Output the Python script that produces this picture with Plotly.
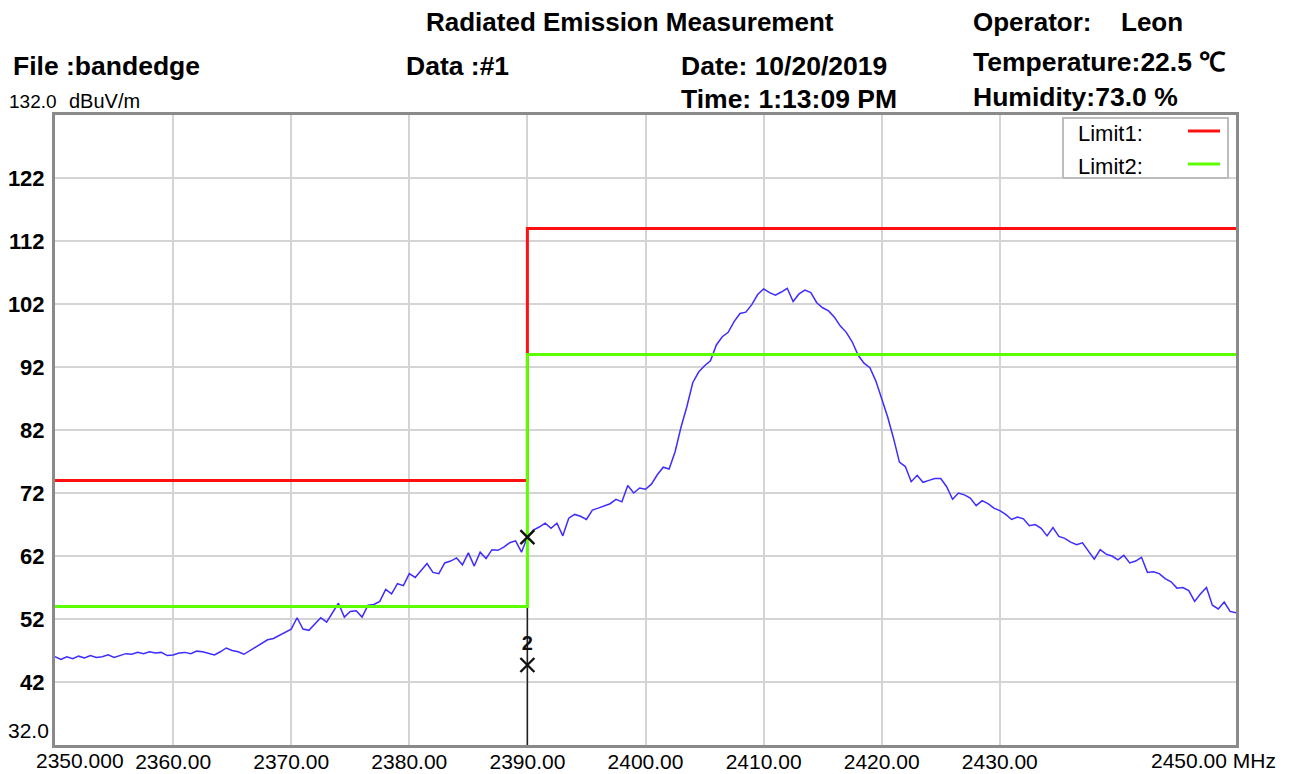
import numpy as np
import plotly.graph_objects as go

# ---------------- data ----------------
f_start, f_stop = 2350.0, 2450.0
level = [
    46.0, 45.6, 46.0, 45.7, 46.1, 45.8, 46.2, 45.9, 46.0, 46.3,
    45.9, 46.2, 46.5, 46.4, 46.7, 46.5, 46.8, 46.6, 46.7, 46.2,
    46.3, 46.6, 46.7, 46.5, 46.9, 46.8, 46.6, 46.3, 46.8, 47.4,
    47.0, 46.8, 46.4, 47.0, 47.6, 48.1, 48.7, 48.9, 49.4, 49.8,
    50.4, 52.2, 50.4, 50.2, 51.2, 52.2, 51.5, 53.0, 54.5, 52.3,
    53.2, 53.3, 52.3, 54.2, 54.3, 54.8, 56.7, 56.0, 57.6, 57.3,
    59.2, 58.6, 59.7, 60.8, 59.4, 59.2, 60.9, 61.2, 61.7, 60.6,
    62.5, 60.4, 62.6, 61.6, 63.0, 62.9, 63.4, 64.1, 64.4, 62.6,
    65.0, 66.1, 66.6, 67.2, 66.4, 67.2, 65.2, 68.0, 68.6, 68.3,
    67.8, 69.3, 69.6, 70.0, 70.3, 71.0, 70.6, 73.2, 72.0, 72.8,
    72.6, 73.4, 74.9, 76.1, 75.8, 78.5, 82.4, 85.7, 89.5, 91.2,
    92.2, 93.0, 95.5, 96.8, 97.5, 99.2, 100.5, 100.7, 101.9, 103.5,
    104.4, 103.8, 103.4, 103.9, 104.5, 102.4, 103.6, 104.2, 103.8, 102.2,
    101.4, 100.9, 99.9, 98.5, 97.5, 96.0, 93.9, 92.6, 91.9, 89.8,
    87.0, 84.1, 80.7, 76.9, 76.2, 73.8, 74.8, 73.7, 74.0, 74.3,
    74.3, 73.0, 71.0, 72.0, 71.7, 71.2, 70.0, 70.8, 70.3, 69.6,
    69.2, 68.6, 67.8, 68.2, 67.9, 66.8, 67.0, 66.4, 65.2, 66.5,
    65.1, 64.8, 64.2, 63.8, 64.1, 62.8, 61.5, 63.0, 62.3, 62.0,
    61.4, 62.1, 60.9, 61.2, 61.8, 59.4, 59.5, 59.2, 58.4, 57.9,
    56.9, 57.0, 56.5, 54.8, 56.0, 57.0, 54.2, 53.6, 54.7, 53.2,
    53.0,
]
freq = np.linspace(f_start, f_stop, len(level))

limit1_x = [2350, 2390, 2390, 2450]
limit1_y = [74, 74, 114, 114]
limit2_x = [2350, 2390, 2390, 2450]
limit2_y = [54, 54, 94, 94]

marker_freq = [2390.0, 2390.0]
marker_level = [65.0, 44.7]
marker_labels = ["", "2"]
marker_line_y = [32, 68.5]

x_tickvals = [2360, 2370, 2380, 2390, 2400, 2410, 2420, 2430]
x_ticktext = ["2360.00", "2370.00", "2380.00", "2390.00", "2400.00",
              "2410.00", "2420.00", "2430.00"]
y_tickvals = [42, 52, 62, 72, 82, 92, 102, 112, 122]
y_ticktext = ["42", "52", "62", "72", "82", "92", "102", "112", "122"]

# ---------------- layout geometry (screen pixels) ----------------
W, H = 1298, 774
OFF = 8                      # page body margin
L, R, T, B = 55, 1236, 115, 745


def px(xp):
    return (xp - L) / (R - L)


def py(yp):
    return (B - yp) / (B - T)


RED = "#ff1010"
GREEN = "#5cff00"
BLUE = "#3f2cff"
FONT = "Liberation Sans"

fig = go.Figure()

fig.add_trace(go.Scatter(x=[marker_freq[0], marker_freq[0]], y=marker_line_y,
                         mode="lines", line=dict(color="#202020", width=1.5),
                         hoverinfo="skip", showlegend=False))

fig.add_trace(go.Scatter(x=freq, y=level, mode="lines",
                         line=dict(color=BLUE, width=1.5),
                         showlegend=False))

fig.add_trace(go.Scatter(x=limit1_x, y=limit1_y, mode="lines",
                         line=dict(color=RED, width=3), showlegend=False))
fig.add_trace(go.Scatter(x=limit2_x, y=limit2_y, mode="lines",
                         line=dict(color=GREEN, width=3), showlegend=False))

fig.add_trace(go.Scatter(x=marker_freq, y=marker_level, mode="markers+text",
                         marker=dict(symbol="x-thin", size=14,
                                     line=dict(color="#111111", width=2.4)),
                         text=marker_labels, textposition="top center",
                         textfont=dict(family=FONT, size=20, color="#111111",
                                       weight="bold"),
                         showlegend=False))

ann = []


def txt(s, xp, yp, size, bold=True, xanchor="left", color="#000000"):
    ann.append(dict(text=("<b>%s</b>" % s) if bold else s,
                    x=px(xp), y=py(yp), xref="paper", yref="paper",
                    xanchor=xanchor, yanchor="middle", showarrow=False,
                    font=dict(family=FONT, size=size, color=color)))


# header
txt("Radiated Emission Measurement", 424, 22, 26)
txt("Operator:", 971, 22, 26)
txt("Leon", 1119, 22, 26)
txt("File :bandedge", 11, 66, 26.5)
txt("Data :#1", 404, 66, 26.5)
txt("Date: 10/20/2019", 679, 66, 26.5)
txt("Temperature:22.5 ℃", 971, 62, 26.5)
txt("Time: 1:13:09 PM", 679, 99, 26.5)
txt("Humidity:73.0 %", 971, 97, 26.5)

# axis extras
txt("132.0", 7, 101, 19, bold=False)
txt("dBuV/m", 67, 101, 20, bold=False)
txt("32.0", 51, 730, 21, bold=False, xanchor="right")
txt("2350.000", 34, 760, 21, bold=False)
txt("2450.00 MHz", 1149, 760, 21, bold=False)

# legend box
txt("Limit1:", 1076, 133, 22, bold=False)
txt("Limit2:", 1076, 166, 22, bold=False)

shapes = [
    dict(type="rect", xref="paper", yref="paper",
         x0=px(1063), x1=px(1228), y0=py(178), y1=py(118),
         line=dict(color="#bdbdbd", width=2), fillcolor="white", layer="above"),
    dict(type="line", xref="paper", yref="paper",
         x0=px(1188), x1=px(1220), y0=py(131), y1=py(131),
         line=dict(color=RED, width=3)),
    dict(type="line", xref="paper", yref="paper",
         x0=px(1188), x1=px(1220), y0=py(164), y1=py(164),
         line=dict(color=GREEN, width=3)),
]

fig.update_layout(
    template="none",
    width=W - OFF, height=H - OFF,
    margin=dict(l=L - OFF, r=W - R, t=T - OFF, b=H - B, pad=0),
    paper_bgcolor="white", plot_bgcolor="white",
    showlegend=False,
    annotations=ann, shapes=shapes,
    xaxis=dict(range=[f_start, f_stop], tickvals=x_tickvals, ticktext=x_ticktext,
               automargin=False,
               showgrid=True, gridcolor="#d4d4d4", gridwidth=2,
               showline=True, linecolor="#8a8a8a", linewidth=3, mirror=True,
               ticks="", zeroline=False, ticklabelstandoff=-4,
               tickfont=dict(family=FONT, size=21, color="#000")),
    yaxis=dict(range=[32, 132], tickvals=y_tickvals, ticktext=y_ticktext,
               automargin=False,
               showgrid=True, gridcolor="#d4d4d4", gridwidth=2,
               showline=True, linecolor="#8a8a8a", linewidth=3, mirror=True,
               ticks="", zeroline=False, ticklabelstandoff=3,
               tickfont=dict(family=FONT, size=22, color="#000",
                             weight="bold")),
)

fig.write_html("out.html")
